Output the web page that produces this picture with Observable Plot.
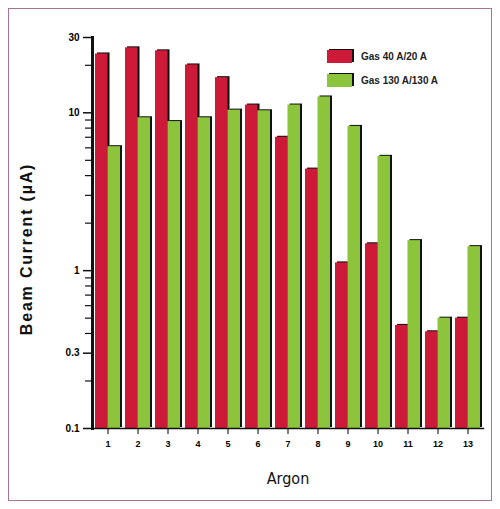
<!DOCTYPE html>
<html><head><meta charset="utf-8">
<script src="https://cdn.jsdelivr.net/npm/d3@7"></script>
<script src="https://cdn.jsdelivr.net/npm/@observablehq/plot@0.6"></script>
<style>
body{margin:0;background:#fff;font-family:Arial,"Liberation Sans",sans-serif}
#wrap{position:relative;width:500px;height:509px;overflow:hidden}
#border{position:absolute;left:8px;top:8px;width:484px;height:493px;border:1px solid #a9709a;box-sizing:border-box;pointer-events:none}
#legend{position:absolute;left:327px;top:44px;font-size:10px;font-weight:bold;color:#222}
.row{display:flex;align-items:center;height:24px}
.sw{width:25px;height:13px;margin-right:9px;box-shadow:2px -1px 0 #111}
</style></head>
<body><div id="wrap"><div id="chart"></div><div id="border"></div><div id="legend"></div></div>
<script>
const cats = ["1","2","3","4","5","6","7","8","9","10","11","12","13"];
const series = ["Gas 40 A/20 A","Gas 130 A/130 A"];
const redVals = [23.6,25.8,24.7,20.1,16.7,11.2,7.0,4.4,1.12,1.48,0.45,0.41,0.50];
const greenVals = [6.1,9.3,8.8,9.3,10.4,10.3,11.2,12.6,8.2,5.3,1.55,0.50,1.42];
const colors = ["#cc1a38","#8cc43c"];
const yTicks = [0.1,0.3,1,10,30];
const yTickLabels = ["0.1","0.3","1","10","30"];
const yMinor = [0.2,0.4,0.5,0.6,0.7,0.8,0.9,2,3,4,5,6,7,8,9,20];
const yTitle = "Beam Current (µA)";
const xTitle = "Argon";

const red = cats.map((c,i)=>({cat:c, s:series[0], v:redVals[i]}));
const green = cats.map((c,i)=>({cat:c, s:series[1], v:greenVals[i]}));

const W=500, ML=92, MR=17, pad=0.17;
const bw = (W-ML-MR)/cats.length*(1-pad);
const half = bw/2;

const chart = Plot.plot({
  width: W, height: 509,
  marginLeft: ML, marginRight: MR, marginTop: 37, marginBottom: 81,
  style: {fontFamily: "Arial, 'Liberation Sans', sans-serif", background: "transparent"},
  x: {domain: cats, paddingInner: pad, paddingOuter: 0.05, label: null},
  y: {type: "log", domain: [0.1, 30], label: null},
  marks: [
    Plot.barY(red, {x:"cat", y1:0.1, y2:"v", fill:"#111", insetRight: half, dx:2, dy:-1}),
    Plot.barY(red, {x:"cat", y1:0.1, y2:"v", fill:colors[0], insetRight: half}),
    Plot.barY(green, {x:"cat", y1:0.1, y2:"v", fill:"#111", insetLeft: half, dx:2, dy:-1}),
    Plot.barY(green, {x:"cat", y1:0.1, y2:"v", fill:colors[1], insetLeft: half}),
    Plot.axisY(yMinor, {tickSize: 7, tickFormat: () => "", stroke: "#111", strokeWidth: 1.2, strokeOpacity: 1, label: null}),
    Plot.axisY(yTicks, {tickFormat: d => yTickLabels[yTicks.indexOf(d)], tickSize: 9, tickPadding: 4, fontSize: 10, fontWeight: "bold", stroke: "#111", strokeWidth: 1.5, label: null}),
    Plot.axisX({tickSize: 6, tickPadding: 6, fontSize: 9, fontWeight: "bold", label: null}),
    Plot.frame({anchor: "left", stroke: "#111", strokeWidth: 3}),
    Plot.frame({anchor: "bottom", stroke: "#111", strokeWidth: 1.5}),
    Plot.text([yTitle], {frameAnchor: "left", textAnchor: "middle", dx: -66, dy: 16, rotate: -90, fontSize: 16, fontWeight: "bold", fill: "#111"}),
    Plot.text([xTitle], {frameAnchor: "bottom", dy: 55, fontSize: 16, fill: "#111", fontFamily: "'Liberation Sans Narrow', 'DejaVu Sans Condensed', Arial, sans-serif"})
  ]
});
chart.querySelectorAll("text").forEach(t => { if (t.textContent === yTitle) t.setAttribute("letter-spacing", "1.8"); });
document.getElementById("chart").appendChild(chart);

const lg = document.getElementById("legend");
series.forEach((s,i)=>{
  const r = document.createElement("div"); r.className="row";
  const sw = document.createElement("div"); sw.className="sw"; sw.style.background=colors[i];
  const t = document.createElement("span"); t.textContent = s;
  r.appendChild(sw); r.appendChild(t); lg.appendChild(r);
});
</script></body></html>
